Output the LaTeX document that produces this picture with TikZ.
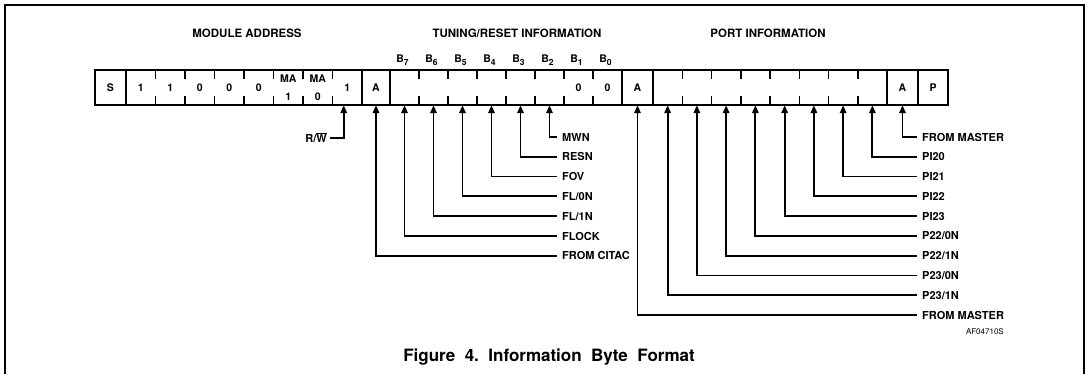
\documentclass[tikz,border=0pt]{standalone}
\usepackage{fontspec}
\setmainfont{TeX Gyre Heros}
\usetikzlibrary{arrows.meta}
\begin{document}
\begin{tikzpicture}[x=1pt,y=-1pt,
  frame/.style={line width=1.2pt},
  boxline/.style={line width=2.4pt},
  divline/.style={line width=1.9pt},
  tickline/.style={line width=1.5pt},
  cell/.style={minimum height=35pt, inner sep=0pt, font=\fontsize{10.5}{12}\selectfont\bfseries},
  celltxt/.style={font=\fontsize{10.5}{12}\selectfont\bfseries, inner sep=0pt},
  hdr/.style={font=\fontsize{11.5}{13}\selectfont\bfseries, inner sep=0pt},
  blab/.style={font=\bfseries\fontsize{10.5}{12}\selectfont, inner sep=0pt},
  lab/.style={font=\bfseries\fontsize{11}{12}\selectfont, inner xsep=5pt, inner ysep=0pt, anchor=west},
  arr/.style={line width=1.8pt, -{Triangle[length=8pt,width=6.5pt]}},
]
\useasboundingbox (0,0) rectangle (1088,374);
% frame
\draw[frame] (5,380) -- (5,5) -- (1084,5) -- (1084,380);

% headers
\node[hdr] (hmod) at (247,33) {MODULE ADDRESS};
\node[hdr] (htun) at (517,33) {TUNING/RESET INFORMATION};
\node[hdr] (hport) at (768,33) {PORT INFORMATION};

% cells
\node[cell, minimum width=31pt] (S) at (110.5,87.5) {S};
\foreach \i/\t in {1/1,2/1,3/0,4/0,5/0,6/{},7/{},8/1}{
  \node[cell, minimum width=29.5pt] (m\i) at ({140.75+29.5*(\i-1)},87.5) {\t};
}
\node[celltxt] (ma1) at (m6 |- 0,79) {MA};
\node[celltxt] (ma1s) at (m6 |- 0,97) {1};
\node[celltxt] (ma0) at (m7 |- 0,79) {MA};
\node[celltxt] (ma0s) at (m7 |- 0,97) {0};
\node[cell, minimum width=28pt] (A1) at (376,87.5) {A};
\foreach \i/\t in {1/{},2/{},3/{},4/{},5/{},6/{},7/0,8/0}{
  \node[cell, minimum width=29pt] (t\i) at ({404.5+29*(\i-1)},87.5) {\t};
}
\node[cell, minimum width=31pt] (A2) at (637.5,87.5) {A};
\foreach \i in {1,...,8}{
  \node[cell, minimum width=29.25pt] (p\i) at ({667.625+29.25*(\i-1)},87.5) {};
}
\node[cell, minimum width=31pt] (A3) at (902.5,87.5) {A};
\node[cell, minimum width=30pt] (P) at (933,87.5) {P};

% outline and dividers
\draw[boxline] (S.north west) rectangle (P.south east);
\foreach \n in {S,m8,A1,t8,A2,p8,A3}{
  \draw[divline] (\n.north east) -- (\n.south east);
}
\foreach \g in {m,t,p}{
  \foreach \i in {1,...,7}{
    \draw[tickline] (\g\i.north east) -- ++(0,9) (\g\i.south east) -- ++(0,-9);
  }
}

% bit labels
\foreach \i/\b in {1/7,2/6,3/5,4/4,5/3,6/2,7/1,8/0}{
  \node[blab] (b\b) at ([xshift=-2pt]t\i.center |- 0,60) {B\raisebox{-2.5pt}{\fontsize{8.5}{8}\selectfont\b}};
}

% R/W
\node[font=\bfseries\fontsize{11}{12}\selectfont, inner xsep=3pt, inner ysep=0pt, anchor=east] (rw) at (330,138) {R/$\overline{\hbox{W}}$};
\draw[arr] (rw.east) -| ([xshift=-3.5pt]m8.south);

% tuning labels
\node[lab] (mwn) at (557,137) {MWN};
\node[lab] (resn) at (557,156.8) {RESN};
\node[lab] (fov) at (557,176.6) {FOV};
\node[lab] (fl0n) at (557,196.4) {FL/0N};
\node[lab] (fl1n) at (557,216.2) {FL/1N};
\node[lab] (flock) at (557,236) {FLOCK};
\node[lab] (citac) at (557,255.8) {FROM CITAC};
\draw[arr] (mwn.west) -| (t6.south);
\draw[arr] (resn.west) -| (t5.south);
\draw[arr] (fov.west) -| (t4.south);
\draw[arr] (fl0n.west) -| (t3.south);
\draw[arr] (fl1n.west) -| (t2.south);
\draw[arr] (flock.west) -| (t1.south);
\draw[arr] (citac.west) -| (A1.south);

% port labels
\node[lab] (fm1) at (917,137) {FROM MASTER};
\node[lab] (pi20) at (917,156.8) {PI20};
\node[lab] (pi21) at (917,176.6) {PI21};
\node[lab] (pi22) at (917,196.4) {PI22};
\node[lab] (pi23) at (917,216.2) {PI23};
\node[lab] (p220) at (917,236) {P22/0N};
\node[lab] (p221) at (917,255.8) {P22/1N};
\node[lab] (p230) at (917,275.6) {P23/0N};
\node[lab] (p231) at (917,295.4) {P23/1N};
\node[lab] (fm2) at (917,315.2) {FROM MASTER};
\draw[arr] (fm1.west) -| (A3.south);
\draw[arr] (pi20.west) -| (p8.south);
\draw[arr] (pi21.west) -| (p7.south);
\draw[arr] (pi22.west) -| (p6.south);
\draw[arr] (pi23.west) -| (p5.south);
\draw[arr] (p220.west) -| (p4.south);
\draw[arr] (p221.west) -| (p3.south);
\draw[arr] (p230.west) -| (p2.south);
\draw[arr] (p231.west) -| (p1.south);
\draw[arr] (fm2.west) -| (A2.south);

\node[font=\fontsize{8}{9}\selectfont, inner sep=0pt, anchor=east] (af) at (1004,332) {AF04710S};

% caption
\node[font=\fontsize{17}{19}\selectfont\bfseries, inner sep=0pt] (cap) at (549,357) {Figure\ \ 4.\ \ Information\ \ Byte\ \ Format};
\end{tikzpicture}
\end{document}
